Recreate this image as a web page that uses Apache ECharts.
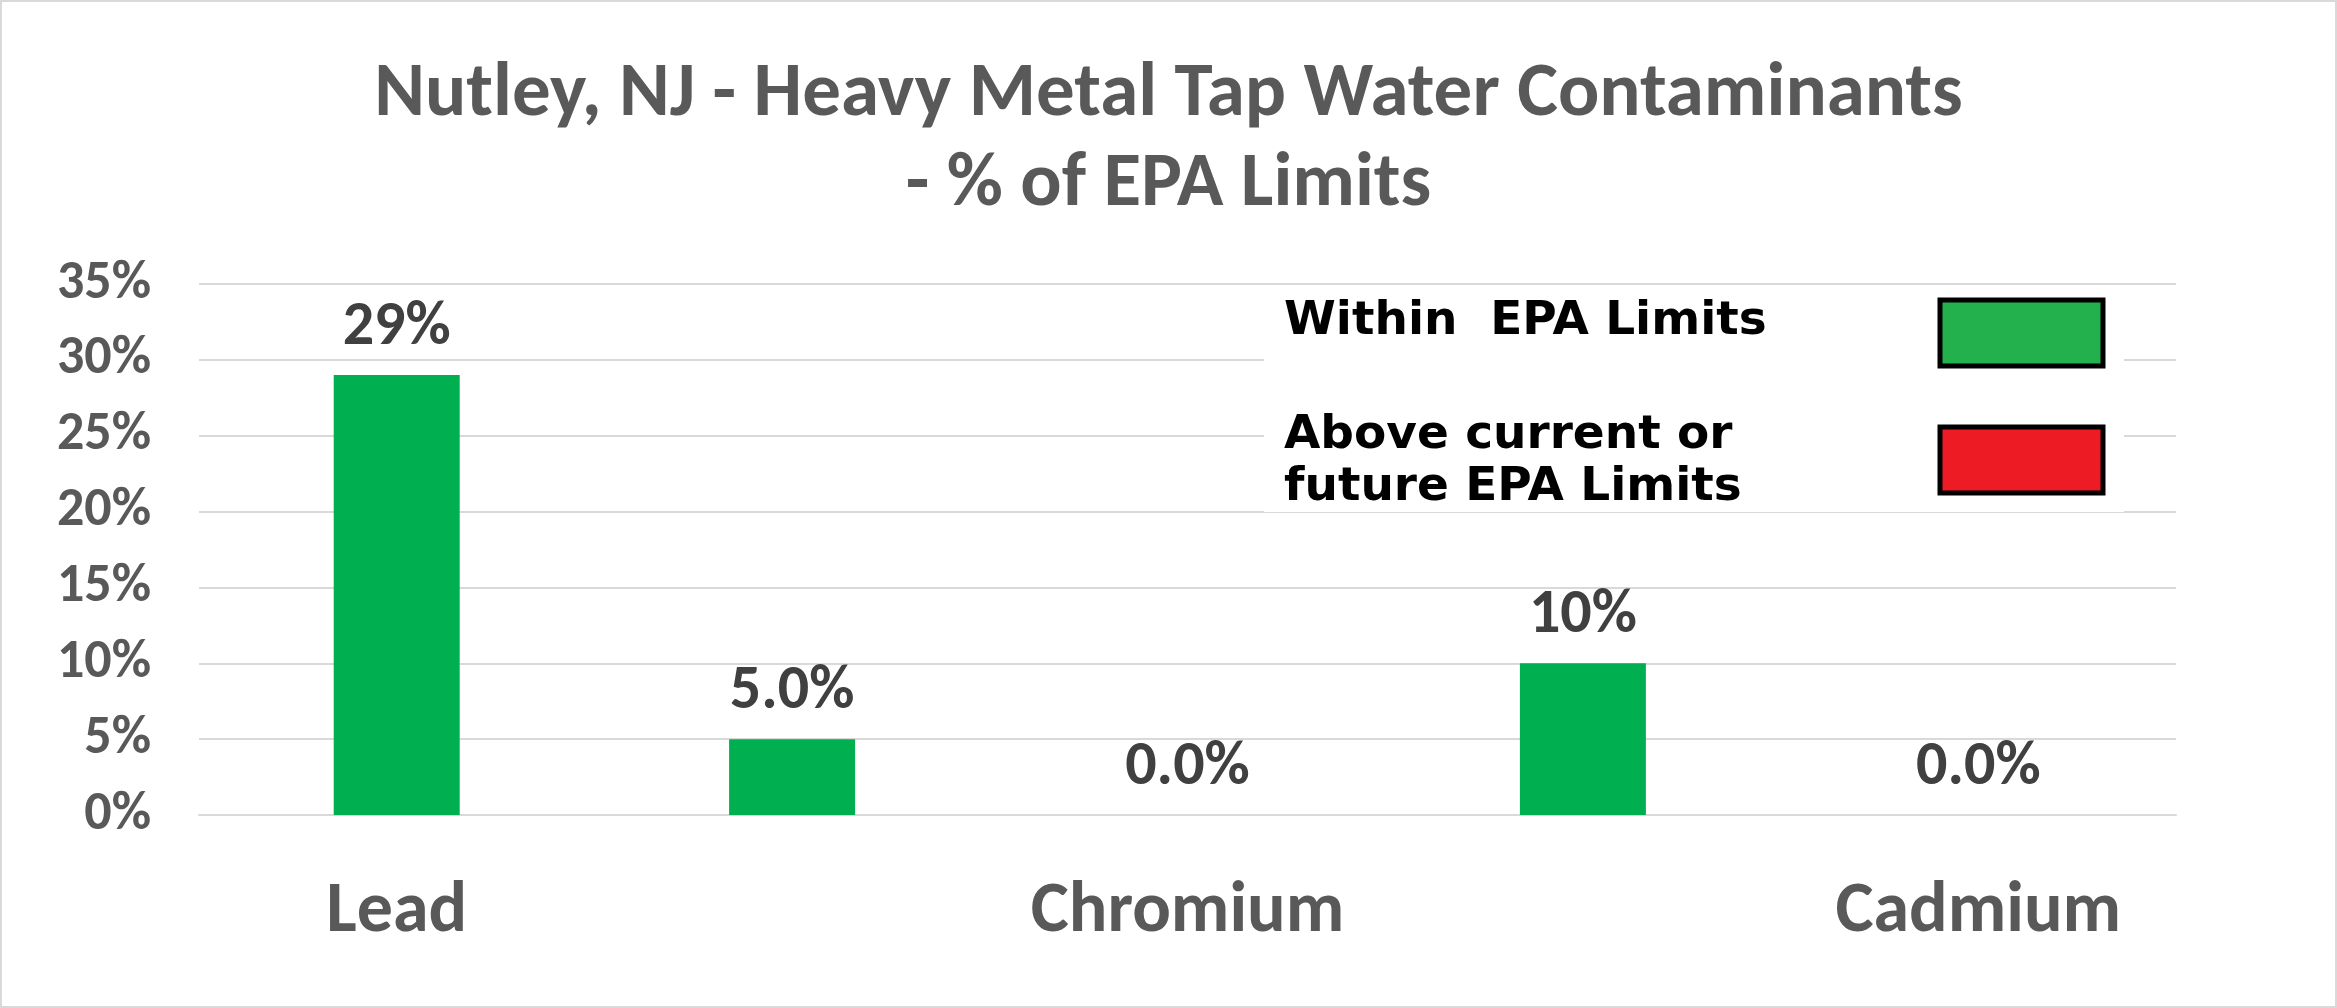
<!DOCTYPE html>
<html><head><meta charset="utf-8">
<script src="https://cdn.jsdelivr.net/npm/echarts@6/dist/echarts.min.js"></script>
<style>html,body{margin:0;padding:0;background:#fff}#c{width:2337px;height:1008px;box-sizing:border-box;border:2px solid #d9d9d9}</style>
</head><body><div id="c"></div>
<script>
const categories = ['Lead','Arsenic','Chromium','Mercury','Cadmium'];
const values = [29, 5, 0, 10, 0];
const valueLabels = ['29%','5.0%','0.0%','10%','0.0%'];
const yTicks = [0,5,10,15,20,25,30,35];
const chart = echarts.init(document.getElementById('c'));
const font = 'Calibri, Carlito, "Open Sans", "Noto Sans", sans-serif';
const lfont = 'bold 47px "DejaVu Sans", Verdana, sans-serif';
chart.setOption({
  animation:false,
  title:{text:'Nutley, NJ - Heavy Metal Tap Water Contaminants\n- % of EPA Limits',left:'center',top:44,
    textStyle:{fontFamily:font,fontSize:77,fontWeight:'bold',color:'#595959',lineHeight:90}},
  grid:{left:197,right:159,top:282,bottom:191},
  xAxis:{type:'category',data:categories,axisTick:{show:false},axisLine:{lineStyle:{color:'#d9d9d9',width:2}},
    axisLabel:{fontFamily:font,fontSize:72,fontWeight:'bold',color:'#595959',margin:62}},
  yAxis:{type:'value',min:0,max:35,interval:5,axisLine:{show:false},
    axisLabel:{formatter:v=>yTicks.includes(v)?v+'%':'',fontFamily:font,fontSize:54,fontWeight:'bold',color:'#595959',margin:48}},
  series:[{type:'bar',data:values,barWidth:126,itemStyle:{color:'#00b050'},
    label:{show:true,position:'top',distance:16,formatter:p=>valueLabels[p.dataIndex],
      fontFamily:font,fontSize:62,fontWeight:'bold',color:'#404040'}}],
  graphic:[
    {type:'rect',z:10,shape:{x:1262,y:290,width:860,height:220},style:{fill:'#fff'}},
    {type:'text',z:11,left:1282,top:296,style:{text:'Within  EPA Limits',font:lfont,fill:'#000'}},
    {type:'rect',z:11,shape:{x:1938,y:298,width:163,height:66},style:{fill:'#22b14c',stroke:'#000',lineWidth:5}},
    {type:'text',z:11,left:1282,top:408,style:{text:'Above current or\nfuture EPA Limits',font:lfont,fill:'#000',lineHeight:52}},
    {type:'rect',z:11,shape:{x:1938,y:425,width:163,height:66},style:{fill:'#ed1c24',stroke:'#000',lineWidth:5}}
  ]
});
chart.setOption({yAxis:{splitLine:{lineStyle:{color:'#d9d9d9',width:2}}}});
</script></body></html>
